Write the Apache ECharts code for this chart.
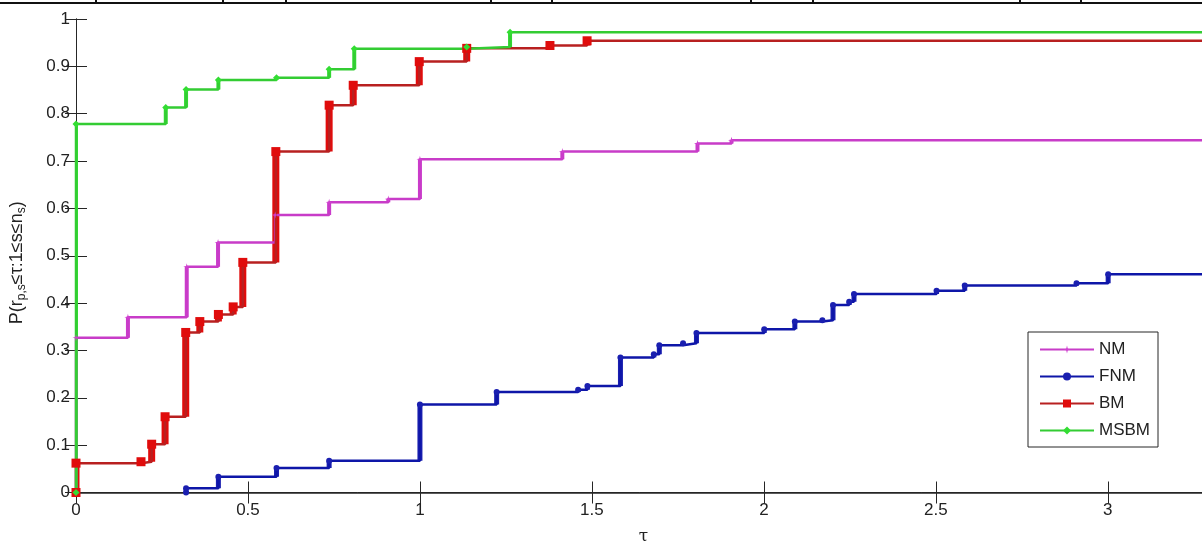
<!DOCTYPE html>
<html>
<head>
<meta charset="utf-8">
<script src="https://cdn.jsdelivr.net/npm/echarts@6/dist/echarts.min.js"></script>
<style>
  html, body { margin: 0; padding: 0; background: #fff; }
  #main { width: 1202px; height: 544px; }
</style>
</head>
<body>
<div id="main"></div>
<script>
// performance profile data: tau where the step happens, value after the step
var nmTau  = [0, 0.151, 0.322, 0.413, 0.579, 0.736, 0.908, 1.0, 1.414, 1.807, 1.906];
var nmVal  = [0.327, 0.370, 0.477, 0.528, 0.586, 0.613, 0.620, 0.704, 0.720, 0.737, 0.744];

var fnmTau = [0.320, 0.414, 0.583, 0.736, 1.0, 1.223, 1.460, 1.487, 1.583, 1.680, 1.696, 1.765,
              1.804, 2.001, 2.090, 2.170, 2.201, 2.248, 2.262, 2.502, 2.584, 2.909, 3.001];
var fnmVal = [0.009, 0.033, 0.052, 0.067, 0.186, 0.212, 0.217, 0.225, 0.285, 0.292, 0.311, 0.315,
              0.337, 0.345, 0.361, 0.364, 0.396, 0.403, 0.419, 0.426, 0.437, 0.442, 0.461];

var bmTau  = [0, 0.189, 0.220, 0.259, 0.319, 0.360, 0.414, 0.457, 0.485, 0.581, 0.736, 0.806,
              0.998, 1.136, 1.378, 1.486];
var bmVal  = [0.062, 0.065, 0.102, 0.160, 0.338, 0.361, 0.376, 0.392, 0.486, 0.720, 0.818, 0.860,
              0.910, 0.938, 0.944, 0.954];

var msTau  = [0, 0.261, 0.320, 0.414, 0.583, 0.736, 0.809, 1.136, 1.262];
var msVal  = [0.778, 0.813, 0.851, 0.871, 0.876, 0.894, 0.937, 0.941, 0.972];

var xTicks = [0, 0.5, 1, 1.5, 2, 2.5, 3];
var tauMax = 3.3;

var font = '"Liberation Sans", Arial, sans-serif';
var axisColor = '#262626';

function stepData(taus, vals) {
  var d = [[taus[0], 0]];
  for (var i = 0; i < taus.length; i++) d.push([taus[i], vals[i]]);
  d.push([tauMax, vals[vals.length - 1]]);
  return d;
}

function lineSeries(name, lineColor, markColor, symbol, size, taus, vals) {
  return {
    name: name, type: 'line', step: 'end',
    data: stepData(taus, vals),
    symbol: symbol, symbolSize: size, showSymbol: true,
    lineStyle: { color: lineColor, width: 2.5 },
    itemStyle: { color: markColor, borderWidth: 0 },
    z: 4, animation: false
  };
}

// thick vertical parts: stacked markers of tied problems
function jumpSeries(name, color, w, taus, vals) {
  var d = taus.map(function (t, i) { return [t, i === 0 ? 0 : vals[i - 1], vals[i]]; });
  return {
    name: name + '-jumps', type: 'custom', data: d, clip: true, z: 3, animation: false,
    encode: { x: 0, y: [1, 2] },
    renderItem: function (params, api) {
      var a = api.coord([api.value(0), api.value(1)]);
      var b = api.coord([api.value(0), api.value(2)]);
      return { type: 'rect', shape: { x: a[0] - w / 2, y: b[1], width: w, height: Math.max(a[1] - b[1], 1) },
               style: { fill: color } };
    }
  };
}

var star = 'path://M5,0L6,4L10,5L6,6L5,10L4,6L0,5L4,4Z';

var myChart = echarts.init(document.getElementById('main'));
var option = {
  backgroundColor: '#fff',
  animation: false,
  grid: { left: 76, top: 19, width: 1135, height: 473.5, outerBoundsMode: 'none', containLabel: false },
  legend: {
    data: ['NM', 'FNM', 'BM', 'MSBM'],
    orient: 'vertical', left: 1028, top: 332,
    itemWidth: 54, itemHeight: 10, itemGap: 10,
    padding: [9, 8, 8, 11],
    borderColor: axisColor, borderWidth: 1, backgroundColor: '#fff',
    textStyle: { fontFamily: font, fontSize: 17, color: '#222' }
  },
  xAxis: [{
    type: 'value', min: 0, max: tauMax, interval: 0.5,
    name: 'τ', nameLocation: 'middle', nameGap: 36,
    nameTextStyle: { fontFamily: '"DejaVu Serif", serif', fontSize: 17, color: '#222' },
    axisLine: { lineStyle: { color: axisColor, width: 1 } },
    axisTick: { inside: true, length: 11, lineStyle: { color: axisColor } },
    axisLabel: { margin: 9, fontFamily: font, fontSize: 17, color: '#222', showMaxLabel: false,
                 formatter: function (v) { return xTicks.indexOf(v) >= 0 ? String(v) : ''; } },
    splitLine: { show: false }
  }, {
    type: 'value', min: 0, max: tauMax, interval: 0.5, position: 'top',
    axisLine: { show: true, lineStyle: { color: axisColor, width: 1.5 } },
    axisTick: { inside: true, length: 11, lineStyle: { color: axisColor } },
    axisLabel: { show: false }, splitLine: { show: false }
  }],
  yAxis: [{
    type: 'value', min: 0, max: 1, interval: 0.1,
    name: 'P(r{s|p,s}≤τ:1≤s≤n{s|s})', nameLocation: 'middle', nameGap: 48,
    nameTextStyle: { fontFamily: font, fontSize: 18, color: '#222', padding: [0, 14, 0, 0],
                     rich: { s: { fontFamily: font, fontSize: 12, color: '#222', padding: [9, 0, 0, 0] } } },
    axisLine: { show: true, lineStyle: { color: axisColor, width: 1 } },
    axisTick: { show: true, inside: true, length: 11, lineStyle: { color: axisColor } },
    axisLabel: { margin: 6, fontFamily: font, fontSize: 17, color: '#222' },
    splitLine: { show: false }
  }, {
    type: 'value', min: 0, max: 1, interval: 0.1, position: 'right',
    axisLine: { show: true, lineStyle: { color: axisColor, width: 1 } },
    axisTick: { show: true, inside: true, length: 11, lineStyle: { color: axisColor } },
    axisLabel: { show: false }, splitLine: { show: false }
  }],
  series: [
    jumpSeries('NM', '#cc3ccc', 4, nmTau, nmVal),
    jumpSeries('FNM', '#1a1fb0', 5, fnmTau, fnmVal),
    jumpSeries('BM', '#e00c0c', 7, bmTau, bmVal),
    jumpSeries('MSBM', '#33dd33', 4, msTau, msVal),
    lineSeries('NM', '#c83cc8', '#d040d0', star, 7, nmTau, nmVal),
    lineSeries('FNM', '#0e16a8', '#1a1fb0', 'circle', 6, fnmTau, fnmVal),
    lineSeries('BM', '#b82020', '#e00c0c', 'rect', 9, bmTau, bmVal),
    lineSeries('MSBM', '#33cc33', '#33dd33', 'diamond', 7, msTau, msVal)
  ],
  graphic: [
    // border of the table cropped above the figure
    { type: 'line', shape: { x1: 0, y1: 3, x2: 1202, y2: 3 }, style: { stroke: '#111', lineWidth: 2 } },
    { type: 'group', children: [96, 223, 286, 491, 552, 751, 813, 1020, 1081].map(function (x) {
        return { type: 'line', shape: { x1: x, y1: 0, x2: x, y2: 3 }, style: { stroke: '#111', lineWidth: 2 } };
      }) }
  ]
};
myChart.setOption(option);
</script>
</body>
</html>
